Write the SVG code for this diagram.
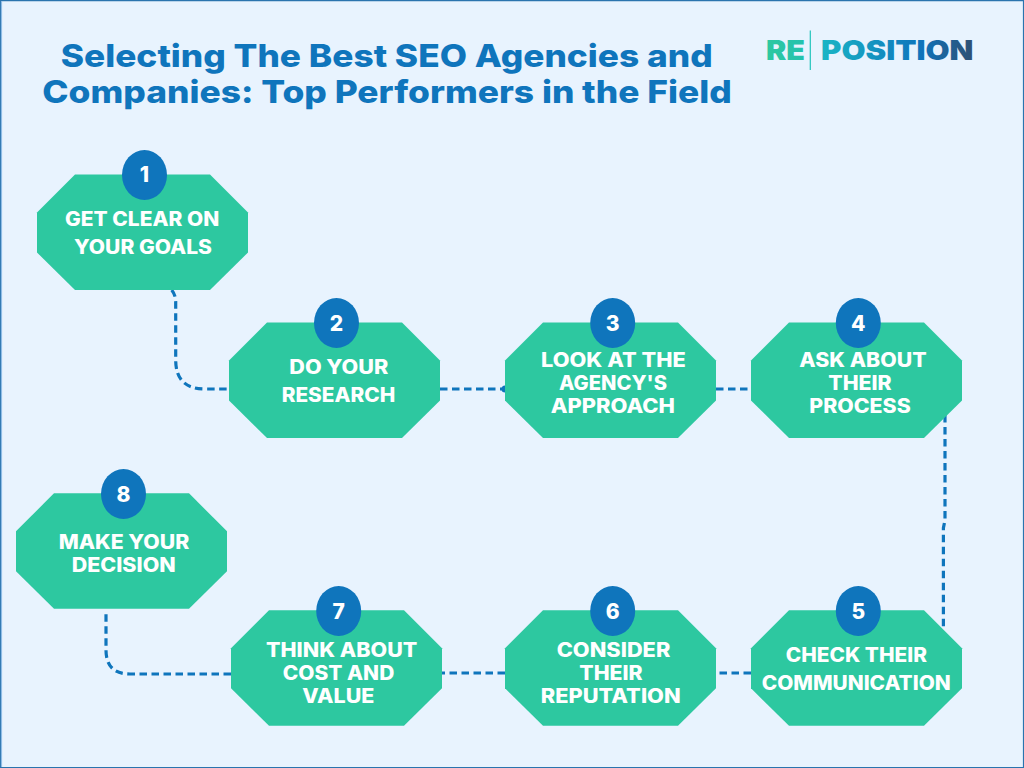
<svg xmlns="http://www.w3.org/2000/svg" width="1024" height="768" viewBox="0 0 1024 768">
<style>
.oct{fill:#2dc8a0}
.badge{fill:#0f75bc}
.lb{font-family:Inter,"Open Sans","Liberation Sans",sans-serif;font-weight:800;font-size:19.5px;fill:#fff}
.num{font-family:Inter,"Open Sans","Liberation Sans",sans-serif;font-weight:800;font-size:21px;fill:#fff;text-anchor:middle}
.title{font-family:Inter,"Open Sans","Liberation Sans",sans-serif;font-weight:800;font-size:31.5px;fill:#0f75bc}
.logo{font-family:Inter,"Open Sans","Liberation Sans",sans-serif;font-weight:900;font-size:27.5px}
.c{fill:none;stroke:#0f75bc;stroke-width:3.2;stroke-dasharray:7.5 4.5}
</style>
<defs>
<polygon id="o" points="38,0 173,0 211,38 211,78 173,115.5 38,115.5 0,78 0,38"/>
<ellipse id="b" rx="22.5" ry="25"/>
<linearGradient id="g1" gradientUnits="userSpaceOnUse" x1="766" y1="0" x2="830" y2="0"><stop offset="0" stop-color="#2dc8a0"/><stop offset="1" stop-color="#1fbdb8"/></linearGradient>
<linearGradient id="g2" gradientUnits="userSpaceOnUse" x1="822" y1="0" x2="973" y2="0"><stop offset="0" stop-color="#1ab5c5"/><stop offset="0.65" stop-color="#0f75bc"/><stop offset="1" stop-color="#2e4f73"/></linearGradient>
</defs>
<rect width="1024" height="768" fill="#e8f3fe"/>
<path d="M0.5 767.5V0.6H1023.5V767.5Z" fill="none" stroke="#2a74ae" stroke-width="1.2"/>
<line x1="1.5" y1="1" x2="1.5" y2="767" stroke="#8fbce6" stroke-width="1.2"/>
<g id="title">
<text class="title" x="60.7" y="66.7" textLength="652" lengthAdjust="spacingAndGlyphs">Selecting The Best SEO Agencies and</text>
<text class="title" x="42.3" y="103.3" textLength="689.5" lengthAdjust="spacingAndGlyphs">Companies: Top Performers in the Field</text>
</g>
<g id="logo">
<text class="logo" x="766" y="60" textLength="39" lengthAdjust="spacingAndGlyphs" fill="url(#g1)">RE</text>
<line x1="810.3" y1="30.5" x2="810.3" y2="70" stroke="#22c4bb" stroke-width="1.2"/>
<text class="logo" x="821" y="60" textLength="152.5" lengthAdjust="spacingAndGlyphs" fill="url(#g2)">POSITION</text>
</g>
<g id="connectors">
<path class="c" d="M171.7 290Q175.7 295 175.7 302V360Q175.7 389 205 389H229"/>
<path class="c" d="M440 389H505"/>
<circle cx="505" cy="389" r="3.5" fill="#0f75bc"/>
<path class="c" d="M716 389H751"/>
<path class="c" d="M945 415V520L943.4 528V630"/>
<path class="c" d="M751 673H716"/>
<path class="c" d="M505 673H442"/>
<path class="c" d="M231 674H130Q106 674 106 650V611.5"/>
</g>
<g id="node-1"><use href="#o" class="oct" x="37" y="174.5"/><use href="#b" class="badge" x="144.5" y="175"/><text class="num" x="144.5" y="182">1</text>
<text class="lb" x="65" y="226" textLength="154.3" lengthAdjust="spacingAndGlyphs">GET CLEAR ON</text><text class="lb" x="74" y="254" textLength="138" lengthAdjust="spacingAndGlyphs">YOUR GOALS</text></g>
<g id="node-2"><use href="#o" class="oct" x="229" y="322.5"/><use href="#b" class="badge" x="336.5" y="323"/><text class="num" x="336.5" y="330.5">2</text>
<text class="lb" x="289.3" y="374" textLength="99" lengthAdjust="spacingAndGlyphs">DO YOUR</text><text class="lb" x="281.7" y="401.7" textLength="113.6" lengthAdjust="spacingAndGlyphs">RESEARCH</text></g>
<g id="node-3"><use href="#o" class="oct" x="505" y="322.5"/><use href="#b" class="badge" x="612.7" y="323"/><text class="num" x="612.7" y="330.5">3</text>
<text class="lb" x="541" y="367.3" textLength="144.7" lengthAdjust="spacingAndGlyphs">LOOK AT THE</text><text class="lb" x="559" y="390" textLength="108" lengthAdjust="spacingAndGlyphs">AGENCY'S</text><text class="lb" x="550.7" y="413" textLength="124.3" lengthAdjust="spacingAndGlyphs">APPROACH</text></g>
<g id="node-4"><use href="#o" class="oct" x="751" y="322.5"/><use href="#b" class="badge" x="858.3" y="323"/><text class="num" x="858.3" y="330.5">4</text>
<text class="lb" x="799.3" y="366.7" textLength="127.4" lengthAdjust="spacingAndGlyphs">ASK ABOUT</text><text class="lb" x="828.3" y="390" textLength="63.4" lengthAdjust="spacingAndGlyphs">THEIR</text><text class="lb" x="809.3" y="412.7" textLength="101.4" lengthAdjust="spacingAndGlyphs">PROCESS</text></g>
<g id="node-5"><use href="#o" class="oct" x="751" y="610.3"/><use href="#b" class="badge" x="858.3" y="611"/><text class="num" x="858.3" y="618.5">5</text>
<text class="lb" x="785.7" y="661.7" textLength="141.3" lengthAdjust="spacingAndGlyphs">CHECK THEIR</text><text class="lb" x="761.7" y="690" textLength="189" lengthAdjust="spacingAndGlyphs">COMMUNICATION</text></g>
<g id="node-6"><use href="#o" class="oct" x="505" y="610.3"/><use href="#b" class="badge" x="612.7" y="611"/><text class="num" x="612.7" y="618.5">6</text>
<text class="lb" x="556.7" y="657.3" textLength="113.6" lengthAdjust="spacingAndGlyphs">CONSIDER</text><text class="lb" x="579.3" y="680" textLength="63.4" lengthAdjust="spacingAndGlyphs">THEIR</text><text class="lb" x="540.7" y="702.7" textLength="140" lengthAdjust="spacingAndGlyphs">REPUTATION</text></g>
<g id="node-7"><use href="#o" class="oct" x="231" y="610.3"/><use href="#b" class="badge" x="338.7" y="611"/><text class="num" x="338.7" y="618.5">7</text>
<text class="lb" x="266" y="657.3" textLength="151.3" lengthAdjust="spacingAndGlyphs">THINK ABOUT</text><text class="lb" x="282.7" y="680" textLength="111.6" lengthAdjust="spacingAndGlyphs">COST AND</text><text class="lb" x="302.3" y="702.7" textLength="72" lengthAdjust="spacingAndGlyphs">VALUE</text></g>
<g id="node-8"><use href="#o" class="oct" x="16" y="493.3"/><use href="#b" class="badge" x="123.5" y="494"/><text class="num" x="123.5" y="501.5">8</text>
<text class="lb" x="58.7" y="549" textLength="130.6" lengthAdjust="spacingAndGlyphs">MAKE YOUR</text><text class="lb" x="71.7" y="571.7" textLength="104" lengthAdjust="spacingAndGlyphs">DECISION</text></g>
</svg>
